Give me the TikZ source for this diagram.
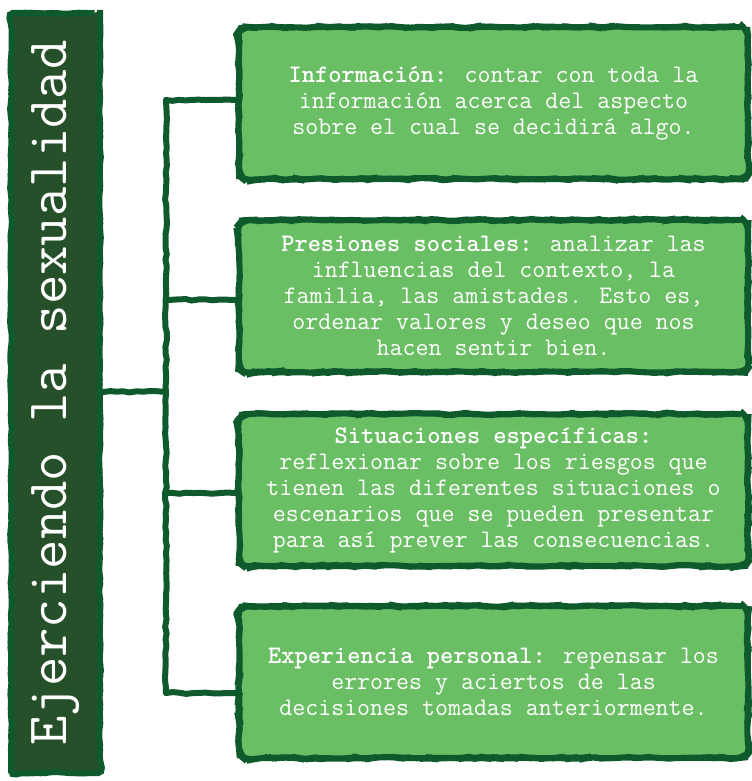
\documentclass[tikz,border=0pt]{standalone}
\usepackage{fontspec}
\usepackage{xcolor}
\usepackage{tikz}
\usetikzlibrary{positioning,calc,decorations.pathmorphing}
\definecolor{sxdark}{HTML}{0F5A2C}
\definecolor{sxbar}{HTML}{26502A}
\definecolor{sxleaf}{HTML}{6ABE63}

\begin{document}
\begin{tikzpicture}[
  x=0.75pt, y=-0.75pt,
  rough/.style={decorate, decoration={random steps, segment length=5pt, amplitude=0.7pt}},
  titlebar/.style={rough, draw=sxdark, fill=sxbar, line width=4.5pt, rounded corners=4pt,
    minimum width=66.75pt, minimum height=570pt, inner sep=0pt},
  leafbox/.style={rough, draw=sxdark, fill=sxleaf, line width=4.5pt, rounded corners=7pt,
    minimum width=381.75pt, minimum height=114pt, inner sep=0pt,
    text=white, align=center, font=\ttfamily\fontsize{18.9}{19.5}\selectfont},
  branch/.style={rough, draw=sxdark, line width=4.5pt, line cap=round},
]
\pgfmathsetseed{7}
\useasboundingbox (0,0) rectangle (751,781);

% title bar on the left
\node[titlebar] (bar) at (55.5,393) {};
\node[rotate=90, text=white, font=\ttfamily\fontsize{42.8}{44}\selectfont] (title) at (bar.center) {Ejerciendo la sexualidad};

% the four boxes
\node[leafbox] (info) at (493.5,103) {\textbf{Información:} contar con toda la\\información acerca del aspecto\\sobre el cual se decidirá algo.};
\node[leafbox] (pres) at (493.5,296) {\textbf{Presiones sociales:} analizar las\\influencias del contexto, la\\familia, las amistades. Esto es,\\ordenar valores y deseo que nos\\hacen sentir bien.};
\node[leafbox] (situ) at (493.5,490) {\textbf{Situaciones específicas:}\\reflexionar sobre los riesgos que\\tienen las diferentes situaciones o\\escenarios que se pueden presentar\\para así prever las consecuencias.};
\node[leafbox] (expe) at (493.5,682) {\textbf{Experiencia personal:} repensar los\\errores y aciertos de las\\decisiones tomadas anteriormente.};

% connectors
\coordinate (hub) at (166,392);
\foreach \b/\dy in {info/-3,pres/4,situ/3,expe/11}
  \coordinate (\b-in) at ($(\b.west)+(0,\dy)$);
\draw[branch] (bar.east |- hub) -- (hub);
\draw[branch] (info-in -| hub) -- (expe-in -| hub);
\foreach \b in {info,pres,situ,expe}
  \draw[branch] (\b-in -| hub) -- (\b-in);
\end{tikzpicture}
\end{document}
